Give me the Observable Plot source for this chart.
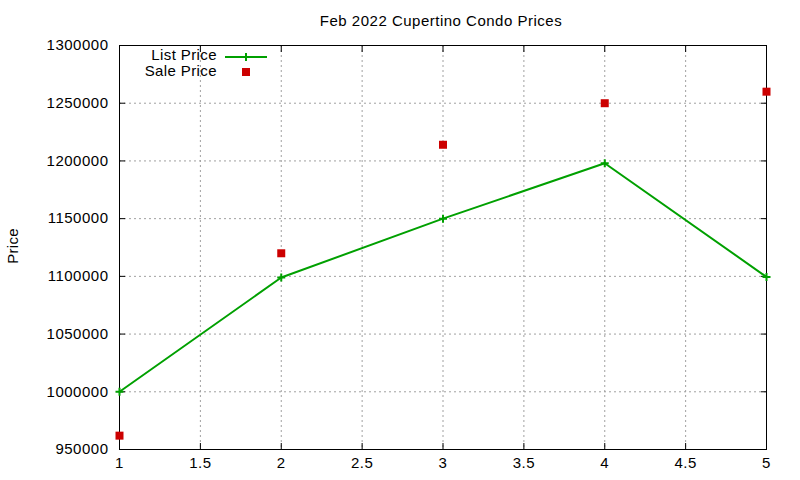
<!DOCTYPE html>
<html>
<head>
<meta charset="utf-8">
<script src="https://cdn.jsdelivr.net/npm/d3@7"></script>
<script src="https://cdn.jsdelivr.net/npm/@observablehq/plot@0.6"></script>
<style>
  html, body { margin: 0; padding: 0; background: #fff; }
  #wrap { position: relative; width: 800px; height: 480px; font-family: "Liberation Sans", Arial, sans-serif; }
  #title { height: 20px; line-height: 20px; padding-top: 11px; text-align: center; font-size: 15px; letter-spacing: 0.5px; color: #000; padding-left: 82px; box-sizing: content-box; }
  #ylabel { position: absolute; left: 12px; top: 246px; transform: translate(-50%, -50%) rotate(-90deg); font-size: 15px; letter-spacing: 0.3px; white-space: nowrap; }
  .leg { position: absolute; left: 0; width: 217px; text-align: right; font-size: 15px; letter-spacing: 0.4px; line-height: 16px; white-space: nowrap; }
  .sw { position: absolute; }
</style>
</head>
<body>
<div id="wrap">
  <div id="title">Feb 2022 Cupertino Condo Prices</div>
  <div id="chart"></div>
  <div id="ylabel">Price</div>
  <div class="leg" style="top:47px">List Price</div>
  <svg class="sw" style="left:224px; top:49px" width="44" height="16">
    <line x1="1" x2="43" y1="8" y2="8" stroke="#00a000" stroke-width="2"/>
    <line x1="22" x2="22" y1="4" y2="12" stroke="#00a000" stroke-width="2"/>
  </svg>
  <div class="leg" style="top:63px">Sale Price</div>
  <svg class="sw" style="left:224px; top:64px" width="44" height="16">
    <rect x="18" y="4" width="8" height="8" fill="#cc0000"/>
  </svg>
</div>
<script>
const months = [1, 2, 3, 4, 5];
const listPrice = [1000000, 1099000, 1150000, 1198000, 1099500];
const salePrice = [962000, 1120000, 1214000, 1250000, 1260000];
const xTicks = [1, 1.5, 2, 2.5, 3, 3.5, 4, 4.5, 5];
const yTicks = [950000, 1000000, 1050000, 1100000, 1150000, 1200000, 1250000, 1300000];

const listData = months.map((m, i) => ({x: m, y: listPrice[i]}));
const saleData = months.map((m, i) => ({x: m, y: salePrice[i]}));

const plusSymbol = {
  draw(ctx, size) {
    const r = Math.sqrt(size / Math.PI);
    ctx.moveTo(-r, 0); ctx.lineTo(r, 0);
    ctx.moveTo(0, -r); ctx.lineTo(0, r);
  }
};
const squareSymbol = {
  draw(ctx, size) {
    const r = Math.sqrt(size / Math.PI);
    ctx.rect(-r, -r, 2 * r, 2 * r);
  }
};

const blank = () => "";
const chart = Plot.plot({
  width: 800,
  height: 449,
  marginTop: 14,
  marginBottom: 31,
  marginLeft: 119,
  marginRight: 34,
  style: {fontFamily: "'Liberation Sans', Arial, sans-serif", fontSize: "15px", letterSpacing: "0.5px", color: "#000", background: "#fff", overflow: "visible"},
  x: {domain: [1, 5], label: null},
  y: {domain: [950000, 1300000], label: null},
  marks: [
    Plot.gridX(xTicks.slice(1, -1), {stroke: "#a0a0a0", strokeOpacity: 1, strokeDasharray: "2,3"}),
    Plot.gridY(yTicks.slice(1, -1), {stroke: "#a0a0a0", strokeOpacity: 1, strokeDasharray: "2,3"}),
    Plot.axisY(yTicks, {anchor: "left", label: null, tickSize: 0, tickPadding: 11, tickFormat: d3.format("d"), fontSize: 15}),
    Plot.axisY(yTicks, {anchor: "left", label: null, tickSize: -6, tickFormat: blank}),
    Plot.axisY(yTicks, {anchor: "right", label: null, tickSize: -6, tickFormat: blank}),
    Plot.axisX(xTicks, {anchor: "bottom", label: null, tickSize: 0, tickPadding: 8, tickFormat: d => String(d), fontSize: 15}),
    Plot.axisX(xTicks, {anchor: "bottom", label: null, tickSize: -6, tickFormat: blank}),
    Plot.axisX(xTicks, {anchor: "top", label: null, tickSize: -6, tickFormat: blank}),
    Plot.frame({stroke: "#000", strokeWidth: 1}),
    Plot.line(listData, {x: "x", y: "y", stroke: "#00a000", strokeWidth: 2}),
    Plot.dot(listData, {x: "x", y: "y", symbol: plusSymbol, r: 4, stroke: "#00a000", strokeWidth: 2, fill: "none"}),
    Plot.dot(saleData, {x: "x", y: "y", symbol: squareSymbol, r: 4, fill: "#cc0000", stroke: "none"})
  ]
});
document.getElementById("chart").appendChild(chart);
</script>
</body>
</html>
